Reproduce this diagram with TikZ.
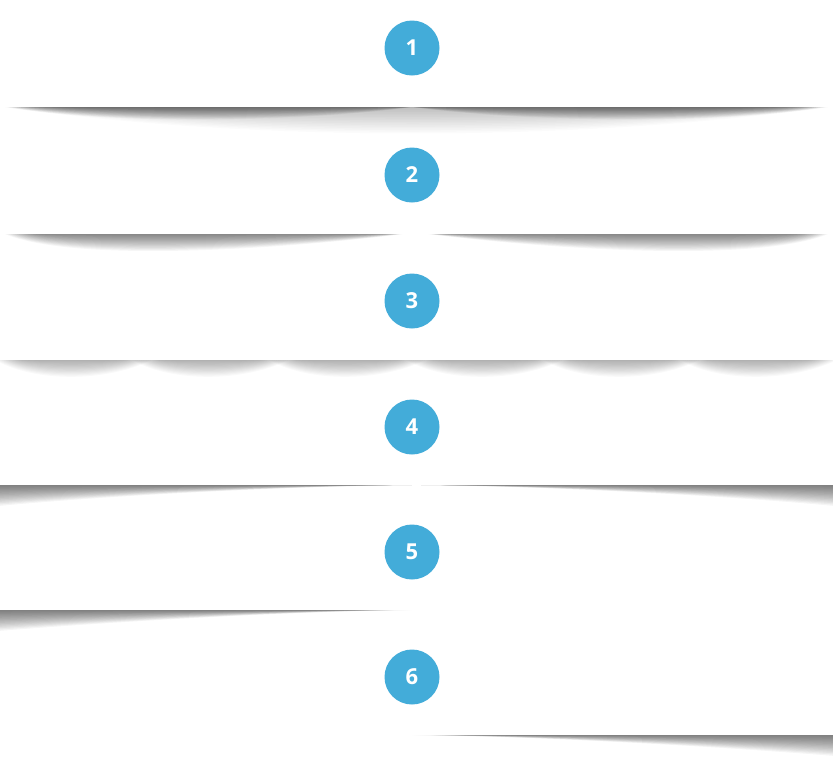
\documentclass[tikz,border=0pt]{standalone}
\usepackage{fontspec}
\setsansfont{Open Sans}
\usepackage{xcolor}
\definecolor{numblue}{RGB}{67,172,217}

\tikzset{
  numcircle/.style={circle, fill=numblue, minimum size=55pt, inner sep=0pt,
    text=white, font=\sffamily\bfseries\fontsize{22}{24}\selectfont},
  shadowlayer/.style={fill=black, fill opacity=#1},
  shadowlayer/.default=0.04
}

\begin{document}
\begin{tikzpicture}[x=1pt, y=-1pt]
            \useasboundingbox[fill=white] (0,0) rectangle (833,769);

            % shadow 1
            \foreach \k in {1,...,16}{
              \fill[shadowlayer=0.014] ({5+(16-\k)*4},107) .. controls (250,{107+2.2*\k}) and (574,{107+2.2*\k}) .. ({828-(16-\k)*4},107) -- cycle;
              \fill[shadowlayer=0.03] ({5+(16-\k)*2},107) .. controls (110,{107+1.1*\k}) and (290,{107+1*\k}) .. (412,107) -- cycle;
              \fill[shadowlayer=0.03] (412,107) .. controls (534,{107+1*\k}) and (714,{107+1.1*\k}) .. ({828-(16-\k)*2},107) -- cycle;
            }

            % shadow 2
            \foreach \k in {1,...,16}{
              \fill[shadowlayer=0.035] ({5+(16-\k)*2},234) .. controls (70,{234+1.7*\k}) and (260,{234+1.1*\k}) .. ({403-(16-\k)},234) -- cycle;
              \fill[shadowlayer=0.035] ({428+(16-\k)},234) .. controls (571,{234+1.1*\k}) and (761,{234+1.7*\k}) .. ({828-(16-\k)*2},234) -- cycle;
            }

            % shadow 3
            \foreach \a in {5,142,279,416,553,690}
              \foreach \k in {1,...,14}
                \fill[shadowlayer=0.025] ({\a-10+(14-\k)*2},360) .. controls ({\a+30},{360+1.6*\k}) and ({\a+100},{360+1.6*\k}) .. ({\a+147-(14-\k)*2},360) -- cycle;

            % shadow 4
            \foreach \k in {1,...,16}{
              \fill[shadowlayer=0.04] (0,485) -- (0,{485+1.3*\k}) .. controls (120,{485+0.6*\k}) and (300,486) .. (412,485) -- cycle;
              \fill[shadowlayer=0.04] (833,485) -- (833,{485+1.3*\k}) .. controls (713,{485+0.6*\k}) and (533,486) .. (421,485) -- cycle;
            }

            % shadow 5
            \foreach \k in {1,...,16}
              \fill[shadowlayer=0.04] (0,610) -- (0,{610+1.3*\k}) .. controls (120,{610+0.7*\k}) and (300,611) .. ({412-(16-\k)*2},610) -- cycle;

            % shadow 6
            \foreach \k in {1,...,16}
              \fill[shadowlayer=0.04] ({412+(16-\k)*2},735) .. controls (530,736) and (713,{735+0.7*\k}) .. (833,{735+1.3*\k}) -- (833,735) -- cycle;

            \foreach \i/\y in {1/48, 2/175, 3/301, 4/427, 5/552, 6/677}
              \node[numcircle] (n\i) at (412,\y) {\i};
        \end{tikzpicture}
\end{document}
